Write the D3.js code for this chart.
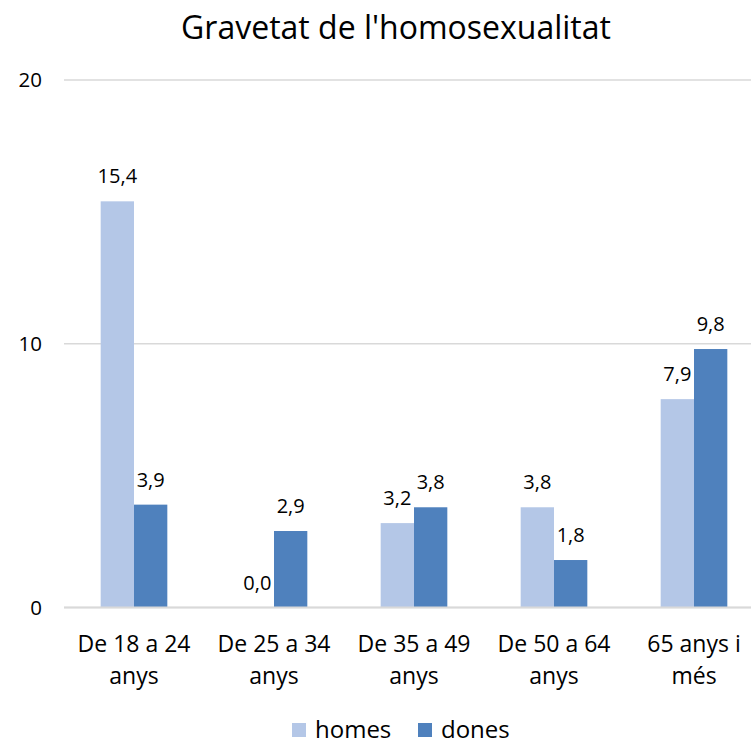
<!DOCTYPE html>
<html lang="ca">

<head>
  <meta charset="UTF-8">
  <title>Gravetat de l'homosexualitat</title>
  <script src="https://cdn.jsdelivr.net/npm/d3@7.6.1/dist/d3.min.js"></script>
  <style>
    body { margin: 0; background: #fff; }
    svg { display: block; font-family: "Open Sans", sans-serif; }
  </style>
</head>

<body>
  <div id="box"></div>
  <script>
    const width = 751
    const height = 744
    const title = "Gravetat de l'homosexualitat"
    const categories = ['De 18 a 24 anys', 'De 25 a 34 anys', 'De 35 a 49 anys', 'De 50 a 64 anys', '65 anys i més']
    const seriesNames = ['homes', 'dones']
    const homes = [15.4, 0.0, 3.2, 3.8, 7.9]
    const dones = [3.9, 2.9, 3.8, 1.8, 9.8]
    const yTicks = [0, 10, 20]
    const colors = ['#B4C7E7', '#4F81BD']

    const values = [homes, dones]
    const rows = categories.map((c, i) => ({ cat: c, vals: seriesNames.map((s, j) => ({ key: s, val: values[j][i] })) }))

    const svg = d3.select('#box').append('svg')
      .attr('width', width)
      .attr('height', height)

    // plot area runs past the right edge (chart was cropped)
    const xScale = d3.scaleBand().domain(categories).range([64, 764]).paddingInner(0.524).paddingOuter(0.262)
    const xSub = d3.scaleBand().domain(seriesNames).range([0, xScale.bandwidth()])
    const yScale = d3.scaleLinear().domain([0, 20]).range([607.5, 80])
    const fmt = v => d3.format('.1f')(v).replace('.', ',')

    // title
    svg.append('text')
      .attr('x', 396).attr('y', 39)
      .attr('text-anchor', 'middle')
      .attr('font-size', 32)
      .attr('fill', '#000')
      .text(title)

    // gridlines
    svg.append('g').selectAll('line').data(yTicks).join('line')
      .attr('x1', 64).attr('x2', 764)
      .attr('y1', d => yScale(d)).attr('y2', d => yScale(d))
      .attr('stroke', '#D9D9D9').attr('stroke-width', 1.5)

    // y axis labels
    const yAxis = d3.axisLeft(yScale).tickValues(yTicks).tickSize(0).tickPadding(22)
    svg.append('g')
      .attr('transform', 'translate(64,0)')
      .call(yAxis)
      .call(g => g.select('.domain').remove())
      .call(g => g.selectAll('text').attr('font-size', 20.5).attr('fill', '#000').attr('font-family', '"Open Sans", sans-serif'))

    // bars
    const groups = svg.append('g').selectAll('g').data(rows).join('g')
      .attr('transform', d => `translate(${xScale(d.cat)},0)`)

    groups.selectAll('rect').data(d => d.vals).join('rect')
      .attr('x', d => xSub(d.key))
      .attr('width', xSub.bandwidth())
      .attr('y', d => yScale(d.val))
      .attr('height', d => yScale(0) - yScale(d.val))
      .attr('fill', (d, i) => colors[i])

    groups.selectAll('text').data(d => d.vals).join('text')
      .attr('x', d => xSub(d.key) + xSub.bandwidth() / 2)
      .attr('y', d => yScale(d.val) - 18)
      .attr('text-anchor', 'middle')
      .attr('font-size', 20)
      .attr('fill', '#000')
      .text(d => fmt(d.val))

    // axis line at 0
    svg.append('line')
      .attr('x1', 64).attr('x2', 764)
      .attr('y1', yScale(0)).attr('y2', yScale(0))
      .attr('stroke', '#D9D9D9').attr('stroke-width', 2)

    // category labels, split on last word
    const xAxis = d3.axisBottom(xScale).tickSize(0).tickFormat('')
    const xg = svg.append('g').attr('transform', `translate(0,${yScale(0)})`).call(xAxis)
    xg.select('.domain').remove()
    xg.selectAll('.tick').append('text')
      .attr('text-anchor', 'middle')
      .attr('font-size', 23)
      .attr('fill', '#000')
      .attr('font-family', '"Open Sans", sans-serif')
      .each(function (d) {
        const k = d.lastIndexOf(' ')
        const lines = [d.slice(0, k), d.slice(k + 1)]
        d3.select(this).selectAll('tspan').data(lines).join('tspan')
          .attr('x', 0)
          .attr('y', (l, i) => 44 + i * 32)
          .text(l => l)
      })

    // legend
    const legendX = [292, 418]
    const legend = svg.append('g').selectAll('g').data(seriesNames).join('g')
      .attr('transform', (d, i) => `translate(${legendX[i]},723)`)
    legend.append('rect')
      .attr('width', 14).attr('height', 14)
      .attr('fill', (d, i) => colors[i])
    legend.append('text')
      .attr('x', 23).attr('y', 15)
      .attr('font-size', 24)
      .attr('fill', '#000')
      .text(d => d)
  </script>
</body>

</html>
